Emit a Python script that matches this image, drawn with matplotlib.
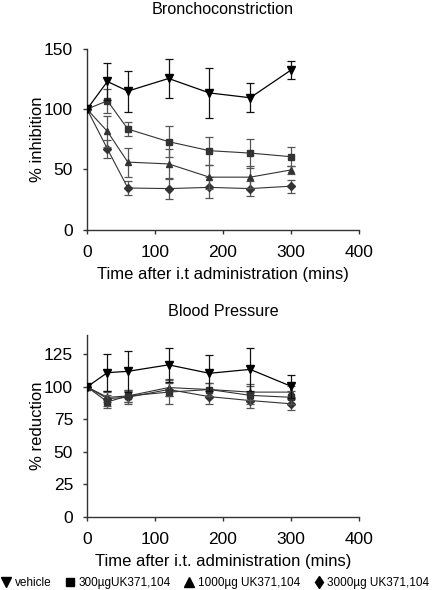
import matplotlib
matplotlib.use("Agg")
import matplotlib.pyplot as plt
from matplotlib.lines import Line2D

plt.rcParams['font.family'] = ['Liberation Sans', 'DejaVu Sans']

time = [0, 30, 60, 120, 180, 240, 300]
series_labels = ["vehicle", "300\u00b5gUK371,104", "1000\u00b5g UK371,104", "3000\u00b5g UK371,104"]

# Bronchoconstriction (% inhibition)
bc_vehicle = [100, 123, 115, 125.5, 113.5, 109.5, 132.5]
bc_300 = [100, 107, 83.5, 73, 65.5, 63.5, 60.5]
bc_1000 = [100, 81.5, 56, 54.5, 43.5, 43.5, 49.5]
bc_3000 = [100, 67, 34.5, 34, 35, 34, 36]
bc_vehicle_err = [0, 15, 17, 16, 21, 12, 7.5]
bc_300_err = [0, 10, 5.5, 13, 11.5, 12, 8]
bc_1000_err = [0, 13, 12, 12.5, 10, 9, 3.5]
bc_3000_err = [0, 7.5, 5.5, 8.5, 9, 6, 5.5]

# Blood pressure (% reduction)
bp_vehicle = [100, 111, 112, 117, 110.5, 113.5, 100.5]
bp_300 = [100, 88.5, 93, 96, 98, 93.5, 92]
bp_1000 = [100, 92, 93, 99.5, 98, 96, 96]
bp_3000 = [100, 91, 92, 98, 92.5, 89.5, 87]
bp_vehicle_err = [0, 14, 16, 13, 14, 16.5, 9]
bp_300_err = [0, 5, 5, 9, 5, 7, 5]
bp_1000_err = [0, 4, 5, 6.5, 5, 6, 5]
bp_3000_err = [0, 6, 5, 5, 6, 6, 5]

markers = ['v', 's', '^', 'D']
msizes = [5.5, 4.5, 5.0, 4.0]
colors = ['black', '#333333', '#333333', '#333333']
ecolors = ['#111111', '#555555', '#555555', '#555555']
lws = [0.9, 0.8, 0.8, 0.8]

fig = plt.figure(figsize=(4.32, 5.90), dpi=100)
ax1 = fig.add_axes([87/432, 1-229.5/590, 272/432, 180.5/590])
ax2 = fig.add_axes([87/432, 1-516.7/590, 272/432, 181.7/590])

def draw(ax, ys, errs):
    order = [3, 2, 1, 0]
    for i in order:
        ax.errorbar(time, ys[i], yerr=errs[i], marker=markers[i], ms=msizes[i],
                    color=colors[i], mfc=colors[i], mec=colors[i], lw=lws[i],
                    ecolor=ecolors[i], elinewidth=0.9, capsize=3, capthick=0.9,
                    zorder=3 + (4 - i))
    for s in ['top', 'right']:
        ax.spines[s].set_visible(False)
    for s in ['left', 'bottom']:
        ax.spines[s].set_color('#333333')
        ax.spines[s].set_linewidth(1.0)
    ax.tick_params(direction='out', length=3, width=1, colors='#333333',
                   labelsize=12.5, labelcolor='black')
    ax.tick_params(axis='x', pad=8)
    ax.tick_params(axis='y', pad=7)
    ax.set_xlim(0, 400)
    ax.set_xticks([0, 100, 200, 300, 400])

draw(ax1, [bc_vehicle, bc_300, bc_1000, bc_3000],
     [bc_vehicle_err, bc_300_err, bc_1000_err, bc_3000_err])
ax1.set_ylim(0, 150)
ax1.set_yticks([0, 50, 100, 150])
ax1.set_ylabel("% inhibition", fontsize=12, labelpad=-1)
ax1.set_xlabel("Time after i.t administration (mins)", fontsize=12, labelpad=5)

draw(ax2, [bp_vehicle, bp_300, bp_1000, bp_3000],
     [bp_vehicle_err, bp_300_err, bp_1000_err, bp_3000_err])
ax2.set_ylim(0, 140)
ax2.set_yticks([0, 25, 50, 75, 100, 125])
ax2.set_ylabel("% reduction", fontsize=12, labelpad=-1)
ax2.set_xlabel("Time after i.t. administration (mins)", fontsize=12, labelpad=5)

fig.text(223/432, 1-9/590, "Bronchoconstriction", ha='center', va='center', fontsize=11.6)
fig.text(223/432, 1-312/590, "Blood Pressure", ha='center', va='center', fontsize=11.6)

handles = [Line2D([], [], ls='none', marker=m, ms=s, color='black')
           for m, s in zip(['v', 's', '^', 'd'], [7, 5.5, 7, 6])]
fig.legend(handles, series_labels, ncol=4, loc='center', bbox_to_anchor=(0.5, 1-583/590),
           frameon=False, fontsize=8.5, handlelength=0.6, handletextpad=0.4,
           columnspacing=1.3, borderpad=0, borderaxespad=0)

fig.savefig("out.png", dpi=100)
